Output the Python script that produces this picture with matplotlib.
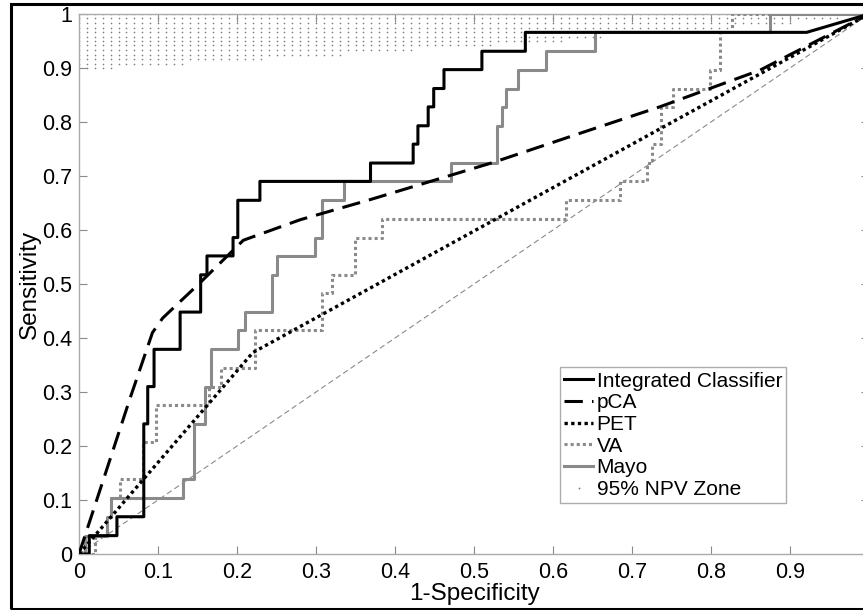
import numpy as np
import matplotlib
matplotlib.use("Agg")
import matplotlib.pyplot as plt
from matplotlib.patches import Rectangle

plt.rcParams['font.family'] = ['Liberation Sans', 'DejaVu Sans']

# ROC curves (1-specificity, sensitivity)
ic_x = [0, 0.013, 0.013, 0.048, 0.048, 0.082, 0.082, 0.087, 0.087, 0.095, 0.095, 0.128, 0.128,
        0.154, 0.154, 0.162, 0.162, 0.195, 0.195, 0.201, 0.201, 0.229, 0.229, 0.369, 0.369,
        0.423, 0.423, 0.429, 0.429, 0.442, 0.442, 0.449, 0.449, 0.462, 0.462, 0.51, 0.51,
        0.565, 0.565, 0.921, 1.0]
ic_y = [0, 0, 0.034, 0.034, 0.069, 0.069, 0.241, 0.241, 0.31, 0.31, 0.379, 0.379, 0.448,
        0.448, 0.517, 0.517, 0.552, 0.552, 0.586, 0.586, 0.655, 0.655, 0.69, 0.69, 0.724,
        0.724, 0.759, 0.759, 0.793, 0.793, 0.828, 0.828, 0.862, 0.862, 0.897, 0.897, 0.931,
        0.931, 0.966, 0.966, 1.0]

pca_x = [0, 0.065, 0.093, 0.106, 0.153, 0.208, 0.28, 0.368, 0.524, 0.634, 0.735, 0.862, 1.0]
pca_y = [0, 0.29, 0.41, 0.437, 0.502, 0.581, 0.619, 0.656, 0.725, 0.779, 0.828, 0.896, 1.0]

pet_x = [0, 0.22, 1.0]
pet_y = [0, 0.373, 1.0]

va_x = [0, 0.02, 0.02, 0.035, 0.035, 0.04, 0.04, 0.052, 0.052, 0.081, 0.081, 0.098, 0.098,
        0.165, 0.165, 0.18, 0.18, 0.223, 0.223, 0.307, 0.307, 0.32, 0.32, 0.349, 0.349,
        0.383, 0.383, 0.617, 0.617, 0.685, 0.685, 0.719, 0.719, 0.725, 0.725, 0.737, 0.737,
        0.752, 0.752, 0.799, 0.799, 0.811, 0.811, 0.826, 0.826, 1.0]
va_y = [0, 0, 0.034, 0.034, 0.069, 0.069, 0.103, 0.103, 0.138, 0.138, 0.207, 0.207, 0.276,
        0.276, 0.31, 0.31, 0.345, 0.345, 0.414, 0.414, 0.483, 0.483, 0.517, 0.517, 0.586,
        0.586, 0.621, 0.621, 0.655, 0.655, 0.69, 0.69, 0.724, 0.724, 0.759, 0.759, 0.828,
        0.828, 0.862, 0.862, 0.897, 0.897, 0.966, 0.966, 1.0, 1.0]

mayo_x = [0, 0.008, 0.008, 0.035, 0.035, 0.04, 0.04, 0.132, 0.132, 0.146, 0.146, 0.159, 0.159,
          0.167, 0.167, 0.201, 0.201, 0.21, 0.21, 0.244, 0.244, 0.25, 0.25, 0.299, 0.299,
          0.307, 0.307, 0.335, 0.335, 0.471, 0.471, 0.529, 0.529, 0.535, 0.535, 0.541, 0.541,
          0.556, 0.556, 0.591, 0.591, 0.653, 0.653, 0.875, 0.875, 1.0]
mayo_y = [0, 0, 0.034, 0.034, 0.069, 0.069, 0.103, 0.103, 0.138, 0.138, 0.241, 0.241, 0.31,
          0.31, 0.379, 0.379, 0.414, 0.414, 0.448, 0.448, 0.517, 0.517, 0.552, 0.552, 0.586,
          0.586, 0.655, 0.655, 0.69, 0.69, 0.724, 0.724, 0.793, 0.793, 0.828, 0.828, 0.862,
          0.862, 0.897, 0.897, 0.931, 0.931, 0.966, 0.966, 1.0, 1.0]

# 95% NPV zone: dot rows (sensitivity) and how far each row reaches in 1-specificity
npv_rows = [0.900, 0.908, 0.917, 0.925, 0.933, 0.942, 0.950, 0.958, 0.967, 0.975, 0.983, 0.992, 1.000]
npv_reach = [0.04, 0.13, 0.23, 0.33, 0.42, 0.52, 0.61, 0.66, 0.71, 0.82, 0.90, 0.96, 0.98]
npv_step = 0.01

xticks = [0, 0.1, 0.2, 0.3, 0.4, 0.5, 0.6, 0.7, 0.8, 0.9]
xtick_labels = ['0', '0.1', '0.2', '0.3', '0.4', '0.5', '0.6', '0.7', '0.8', '0.9']
yticks = [0, 0.1, 0.2, 0.3, 0.4, 0.5, 0.6, 0.7, 0.8, 0.9, 1.0]
ytick_labels = ['0', '0.1', '0.2', '0.3', '0.4', '0.5', '0.6', '0.7', '0.8', '0.9', '1']

gray = '#8a8a8a'

fig = plt.figure(figsize=(8.63, 6.10), dpi=100)
ax = fig.add_axes([79 / 863, 56 / 610, 790 / 863, 540 / 610])

# outer black frame of the figure
fig.patches.append(Rectangle((11 / 863, 1.5 / 610), 1.0, 604.5 / 610, transform=fig.transFigure,
                             fill=False, edgecolor='black', linewidth=2.2, zorder=10))

# NPV zone dots
zx, zy = [], []
for row, reach in zip(npv_rows, npv_reach):
    cols = np.arange(0, reach + 1e-9, npv_step)
    zx.extend(cols)
    zy.extend([row] * len(cols))
ax.plot(zx, zy, linestyle='none', marker='o', markersize=1.2, markeredgewidth=0,
        color='#808080', zorder=1)

# chance line
ax.plot([0, 1], [0, 1], color=gray, linestyle=(0, (5, 3)), linewidth=0.8, zorder=2)

ax.plot(mayo_x, mayo_y, color=gray, linewidth=2.2, zorder=3, label='Mayo')
ax.plot(va_x, va_y, color=gray, linewidth=2.2, linestyle=(0, (1, 1)), zorder=3, label='VA')
ax.plot(pet_x, pet_y, color='black', linewidth=2.4, linestyle=(0, (1, 1)), zorder=4, label='PET')
ax.plot(pca_x, pca_y, color='black', linewidth=2.2, linestyle=(0, (6, 3)), zorder=4, label='pCA')
ax.plot(ic_x, ic_y, color='black', linewidth=2.2, zorder=5, label='Integrated Classifier')

ax.set_xlim(0, 1)
ax.set_ylim(0, 1)
ax.set_xticks(xticks)
ax.set_xticklabels(xtick_labels)
ax.set_yticks(yticks)
ax.set_yticklabels(ytick_labels)
ax.tick_params(direction='in', length=6, width=0.8, color=gray, labelsize=15.5,
               top=True, right=True)
ax.tick_params(axis='x', pad=6)
ax.tick_params(axis='y', pad=5)
for s in ax.spines.values():
    s.set_color('#aaaaaa')
    s.set_linewidth(1.0)

ax.set_xlabel('1-Specificity', fontsize=17.5, labelpad=0)
ax.set_ylabel('Sensitivity', fontsize=17.5, labelpad=1)

# legend in the original order
handles, labels = ax.get_legend_handles_labels()
order = ['Integrated Classifier', 'pCA', 'PET', 'VA', 'Mayo']
h = [handles[labels.index(n)] for n in order]
npv_handle = plt.Line2D([], [], linestyle='none', marker='o', markersize=1.3,
                        markeredgewidth=0, color='#777777')
h.append(npv_handle)
leg = ax.legend(h, order + ['95% NPV Zone'], loc='lower left',
                bbox_to_anchor=(0.609, 0.094), fontsize=15, frameon=True,
                fancybox=False, edgecolor='#999999', handlelength=1.4,
                handletextpad=0.15, labelspacing=0.13, borderpad=0.2,
                borderaxespad=0)
leg.get_frame().set_linewidth(1.0)

fig.savefig('out.png', dpi=100)
